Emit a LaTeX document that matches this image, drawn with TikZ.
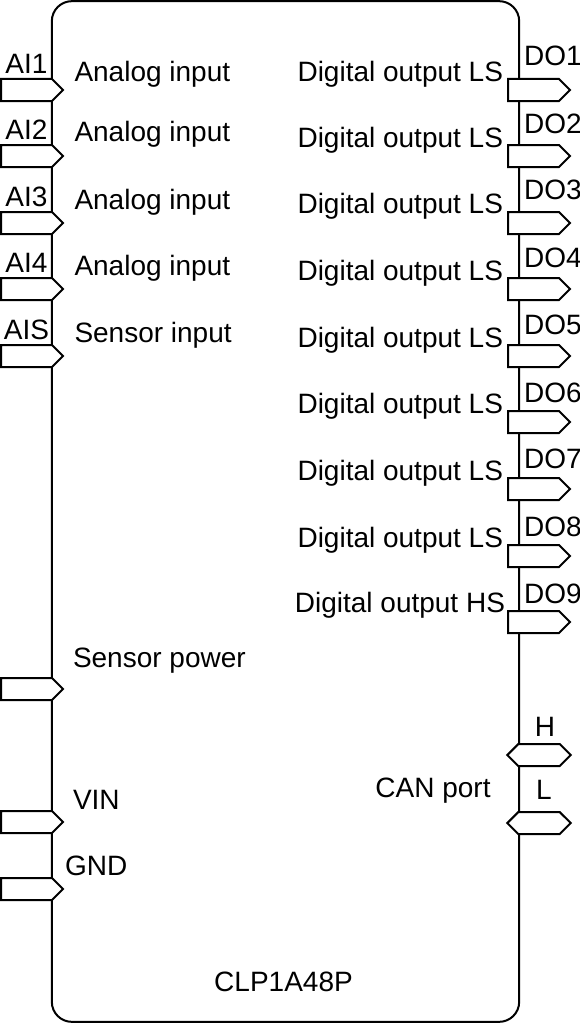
\documentclass[tikz,border=0pt]{standalone}
\usepackage{fontspec}
\setmainfont{Liberation Sans}
\usetikzlibrary{shapes.symbols}
\tikzset{
  px/.style={x=0.75pt,y=-0.75pt},
  pinbox/.style={draw,fill=white,line width=1.5pt,signal,signal to=east,signal pointer angle=90,minimum width=46.5pt,minimum height=16.5pt,inner sep=0pt,outer sep=0pt,anchor=west},
  pinbus/.style={draw,fill=white,line width=1.5pt,signal,signal to=east and west,signal pointer angle=90,minimum width=47.5pt,minimum height=16.5pt,inner sep=0pt,outer sep=0pt},
  lbl/.style={font=\fontsize{21}{25}\selectfont,inner sep=0pt,outer sep=0pt}
}
\begin{document}
\begin{tikzpicture}[px]
\useasboundingbox (0,0) rectangle (580,1024);
\node[draw,line width=1.5pt,rounded corners=15pt,minimum width=350.5pt,minimum height=765.5pt,inner sep=0pt] (body) at (285.5,511.5) {};

\foreach \n/\y/\by/\t/\d in {1/90/81/AI1/Analog input,2/156/142/AI2/Analog input,3/223/209/AI3/Analog input,4/289/275/AI4/Analog input,5/356/342/AIS/Sensor input} {
  \node[pinbox] (ai\n) at (1,\y) {};
  \node[lbl,anchor=base west] (aidesc\n) at (74.5,\by) {\d};
  \node[lbl,anchor=base] (ailbl\n) at (26.5,\y-16.5) {\t};
}
\node[pinbox] (power) at (1,689) {};
\node[pinbox] (vin) at (1,822) {};
\node[pinbox] (gnd) at (1,889) {};
\node[lbl,anchor=base west] (powerdesc) at (73,667) {Sensor power};
\node[lbl,anchor=base west] (vindesc) at (73,809) {VIN};
\node[lbl,anchor=base west] (gnddesc) at (65,875) {GND};

\foreach \n/\y/\by/\ex/\ey/\d in {1/90/66/503/81/LS,2/156/133/503/147/LS,3/223/199/503/213/LS,4/289/267/503/280/LS,5/356/334/503/347/LS,6/422/402/503/413/LS,7/489/468/503/480/LS,8/556/536/503/547/LS,9/622/603/505/612/HS} {
  \node[pinbox] (do\n) at (508,\y) {};
  \node[lbl,anchor=base east] (dodesc\n) at (\ex,\ey) {Digital output \d};
  \node[lbl,anchor=base] (dolbl\n) at (553,\by) {DO\n};
}
\node[pinbus] (canh) at (539,755) {};
\node[pinbus] (canl) at (539,823) {};
\node[lbl,anchor=base] (hlbl) at (545,736) {H};
\node[lbl,anchor=base] (llbl) at (544,799) {L};
\node[lbl,anchor=base] (candesc) at (433,797) {CAN port};
\node[lbl,anchor=base] (name) at (283.5,991) {CLP1A48P};
\end{tikzpicture}
\end{document}
